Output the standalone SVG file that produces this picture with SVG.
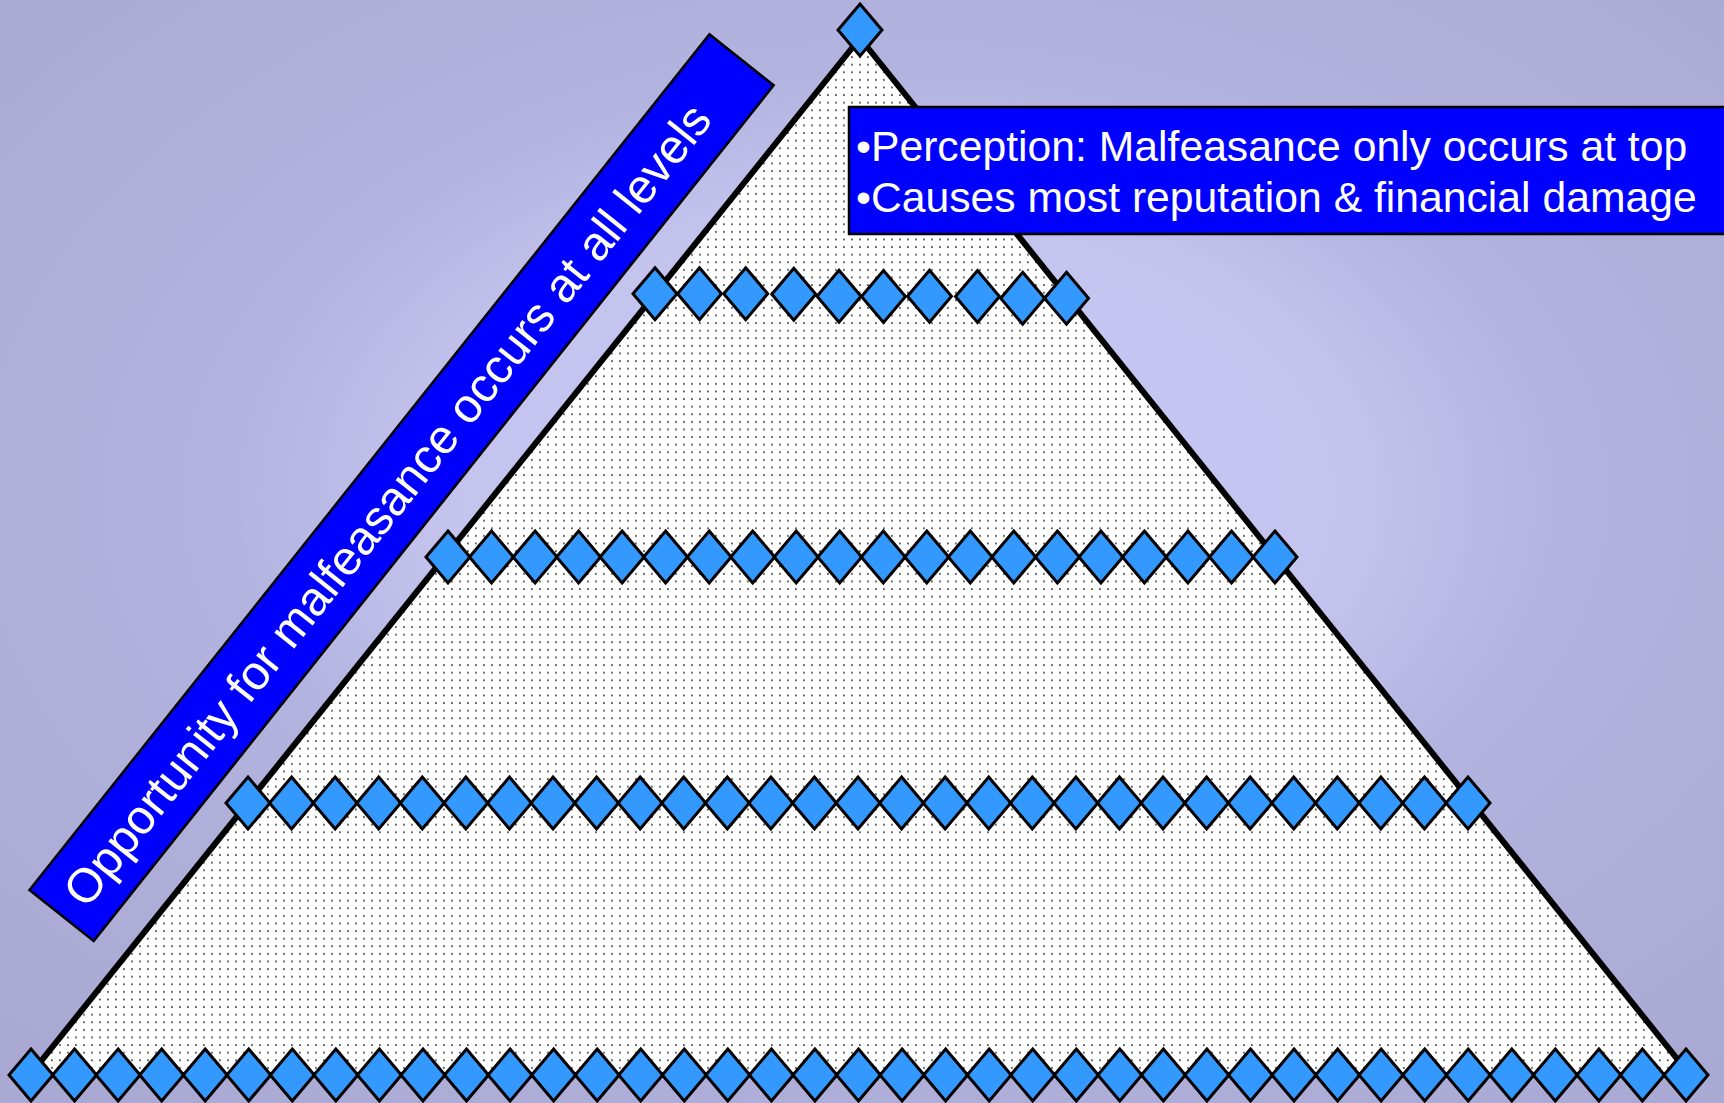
<svg xmlns="http://www.w3.org/2000/svg" xmlns:xlink="http://www.w3.org/1999/xlink" width="1724" height="1103" viewBox="0 0 1724 1103">
<style>
.bg{fill:url(#bgGrad)}
.pyr{fill:url(#dots);stroke:#000;stroke-width:6;stroke-linejoin:miter}
.dia{fill:#3399ff;stroke:#000;stroke-width:3;stroke-linejoin:miter}
.box{fill:#0000ff;stroke:#000;stroke-width:2.5}
.txt{fill:#fff;font-family:"Liberation Sans",Arial,sans-serif}
</style>
<defs>
<radialGradient id="bgGrad" cx="0.52" cy="0.45" r="0.7">
<stop offset="0" stop-color="#cacaf8"/>
<stop offset="0.38" stop-color="#c3c3ee"/>
<stop offset="0.55" stop-color="#b3b3df"/>
<stop offset="1" stop-color="#a9a9d3"/>
</radialGradient>
<pattern id="dots" width="8" height="7.6" patternUnits="userSpaceOnUse">
<rect width="8" height="7.6" fill="#ffffff"/>
<rect x="3" y="3" width="1.8" height="1.8" fill="#555555"/>
</pattern>
<path id="dm" class="dia" d="M0,-26 L22,0 L0,26 L-22,0 Z"/>
</defs>
<rect class="bg" x="0" y="0" width="1724" height="1103"/>

<g id="pyramid">
<polygon class="pyr" points="860,38 1690,1075 30,1075"/>
</g>

<g id="connectors"></g>

<g id="apex">
<use xlink:href="#dm" href="#dm" x="860" y="30"/>
</g>

<g id="row2">
<use href="#dm" x="655" y="293.7"/>
<use href="#dm" x="699.5" y="293.7"/>
<use href="#dm" x="745.7" y="293.7"/>
<use href="#dm" x="793.8" y="294.2"/>
<use href="#dm" x="839" y="296.2"/>
<use href="#dm" x="883.5" y="296.5"/>
<use href="#dm" x="929.5" y="296.2"/>
<use href="#dm" x="977.5" y="296.5"/>
<use href="#dm" x="1022.7" y="298.3"/>
<use href="#dm" x="1066.5" y="298.3"/>
</g>

<g id="row3">
<use href="#dm" x="448" y="557"/>
<use href="#dm" x="491.5" y="557"/>
<use href="#dm" x="535.1" y="557"/>
<use href="#dm" x="578.6" y="557"/>
<use href="#dm" x="622.1" y="557"/>
<use href="#dm" x="665.6" y="557"/>
<use href="#dm" x="709.2" y="557"/>
<use href="#dm" x="752.7" y="557"/>
<use href="#dm" x="796.2" y="557"/>
<use href="#dm" x="839.7" y="557"/>
<use href="#dm" x="883.3" y="557"/>
<use href="#dm" x="926.8" y="557"/>
<use href="#dm" x="970.3" y="557"/>
<use href="#dm" x="1013.8" y="557"/>
<use href="#dm" x="1057.4" y="557"/>
<use href="#dm" x="1100.9" y="557"/>
<use href="#dm" x="1144.4" y="557"/>
<use href="#dm" x="1187.9" y="557"/>
<use href="#dm" x="1231.5" y="557"/>
<use href="#dm" x="1275" y="557"/>
</g>

<g id="row4">
<use href="#dm" x="248" y="803"/>
<use href="#dm" x="291.57" y="803"/>
<use href="#dm" x="335.14" y="803"/>
<use href="#dm" x="378.71" y="803"/>
<use href="#dm" x="422.29" y="803"/>
<use href="#dm" x="465.86" y="803"/>
<use href="#dm" x="509.43" y="803"/>
<use href="#dm" x="553" y="803"/>
<use href="#dm" x="596.57" y="803"/>
<use href="#dm" x="640.14" y="803"/>
<use href="#dm" x="683.71" y="803"/>
<use href="#dm" x="727.29" y="803"/>
<use href="#dm" x="770.86" y="803"/>
<use href="#dm" x="814.43" y="803"/>
<use href="#dm" x="858" y="803"/>
<use href="#dm" x="901.57" y="803"/>
<use href="#dm" x="945.14" y="803"/>
<use href="#dm" x="988.71" y="803"/>
<use href="#dm" x="1032.29" y="803"/>
<use href="#dm" x="1075.86" y="803"/>
<use href="#dm" x="1119.43" y="803"/>
<use href="#dm" x="1163" y="803"/>
<use href="#dm" x="1206.57" y="803"/>
<use href="#dm" x="1250.14" y="803"/>
<use href="#dm" x="1293.71" y="803"/>
<use href="#dm" x="1337.29" y="803"/>
<use href="#dm" x="1380.86" y="803"/>
<use href="#dm" x="1424.43" y="803"/>
<use href="#dm" x="1468" y="803"/>
</g>

<g id="row5">
<use href="#dm" x="31" y="1075"/>
<use href="#dm" x="74.55" y="1075"/>
<use href="#dm" x="118.1" y="1075"/>
<use href="#dm" x="161.66" y="1075"/>
<use href="#dm" x="205.2" y="1075"/>
<use href="#dm" x="248.76" y="1075"/>
<use href="#dm" x="292.3" y="1075"/>
<use href="#dm" x="335.87" y="1075"/>
<use href="#dm" x="379.4" y="1075"/>
<use href="#dm" x="422.97" y="1075"/>
<use href="#dm" x="466.5" y="1075"/>
<use href="#dm" x="510.08" y="1075"/>
<use href="#dm" x="553.6" y="1075"/>
<use href="#dm" x="597.2" y="1075"/>
<use href="#dm" x="640.7" y="1075"/>
<use href="#dm" x="684.3" y="1075"/>
<use href="#dm" x="727.8" y="1075"/>
<use href="#dm" x="771.4" y="1075"/>
<use href="#dm" x="814.9" y="1075"/>
<use href="#dm" x="858.5" y="1075"/>
<use href="#dm" x="902.05" y="1075"/>
<use href="#dm" x="945.6" y="1075"/>
<use href="#dm" x="989.2" y="1075"/>
<use href="#dm" x="1032.7" y="1075"/>
<use href="#dm" x="1076.3" y="1075"/>
<use href="#dm" x="1119.8" y="1075"/>
<use href="#dm" x="1163.4" y="1075"/>
<use href="#dm" x="1206.9" y="1075"/>
<use href="#dm" x="1250.5" y="1075"/>
<use href="#dm" x="1294" y="1075"/>
<use href="#dm" x="1337.6" y="1075"/>
<use href="#dm" x="1381.1" y="1075"/>
<use href="#dm" x="1424.7" y="1075"/>
<use href="#dm" x="1468.2" y="1075"/>
<use href="#dm" x="1511.8" y="1075"/>
<use href="#dm" x="1555.3" y="1075"/>
<use href="#dm" x="1598.9" y="1075"/>
<use href="#dm" x="1642.4" y="1075"/>
<use href="#dm" x="1686" y="1075"/>
</g>

<g id="perception-box">
<rect class="box" x="849" y="107" width="885" height="127"/>
<text class="txt" x="856" y="160.5" font-size="42.7">•Perception: Malfeasance only occurs at top</text>
<text class="txt" x="856" y="211.5" font-size="42.7">•Causes most reputation &amp; financial damage</text>
</g>

<g id="opportunity-banner" transform="translate(29.5,890) rotate(-51.53)">
<rect class="box" x="0" y="0" width="1093" height="82"/>
<text class="txt" x="524" y="57" font-size="48" text-anchor="middle">Opportunity for malfeasance occurs at all levels</text>
</g>
</svg>
